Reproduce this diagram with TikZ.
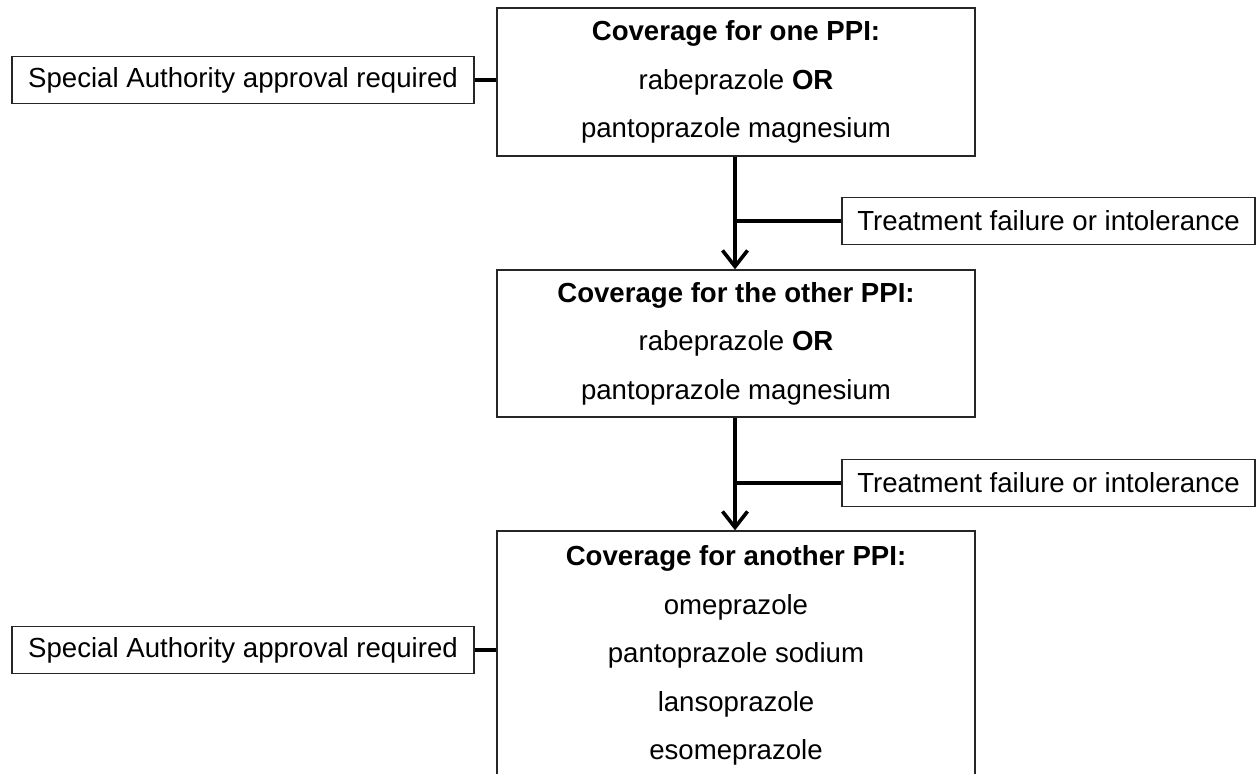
\documentclass[tikz,border=0pt]{standalone}
\usepackage{fontspec}
\setmainfont{Liberation Sans}
\usetikzlibrary{arrows.meta}
\begin{document}
\begin{tikzpicture}[x=1pt,y=-1pt,
  box/.style={draw=black!85, line width=1.3pt, inner sep=0pt, align=center,
    font=\fontsize{27.6}{48.5}\selectfont},
  bigbox/.style={box, minimum width=478pt},
  sidebox/.style={box, minimum width=462pt, minimum height=47pt},
  failbox/.style={box, minimum width=413pt, minimum height=47pt},
  conn/.style={line width=3.6pt, black},
  arr/.style={conn, -{Straight Barb[length=16pt,width=25pt,line width=3.6pt]}}]
\clip (0,0) rectangle (1257,773);
\node[bigbox, minimum height=148pt] (top) at (736,82)
  {\textbf{Coverage for one PPI:}\\rabeprazole \textbf{OR}\\pantoprazole magnesium};
\node[bigbox, minimum height=147pt] (mid) at (736,343.5)
  {\textbf{Coverage for the other PPI:}\\rabeprazole \textbf{OR}\\pantoprazole magnesium};
\node[bigbox, minimum height=249pt] (bot) at (736,655.5)
  {\textbf{Coverage for another PPI:}\\omeprazole\\pantoprazole sodium\\lansoprazole\\esomeprazole};
\node[sidebox] (sa1) at (243,80) {Special Authority approval required};
\node[sidebox] (sa2) at (243,650) {Special Authority approval required};
\node[failbox] (tf1) at (1048.5,221) {Treatment failure or intolerance};
\node[failbox] (tf2) at (1048.5,483) {Treatment failure or intolerance};
\draw[conn] (sa1.east) -- (sa1.east -| top.west);
\draw[conn] (sa2.east) -- (sa2.east -| bot.west);
\draw[arr] ([xshift=-1pt]top.south) -- ([xshift=-1pt]mid.north);
\draw[arr] ([xshift=-1pt]mid.south) -- ([xshift=-1pt]bot.north);
\draw[conn] (tf1.west) -- ([xshift=-2.8pt]tf1.west -| top.south);
\draw[conn] (tf2.west) -- ([xshift=-2.8pt]tf2.west -| mid.south);
\end{tikzpicture}
\end{document}
